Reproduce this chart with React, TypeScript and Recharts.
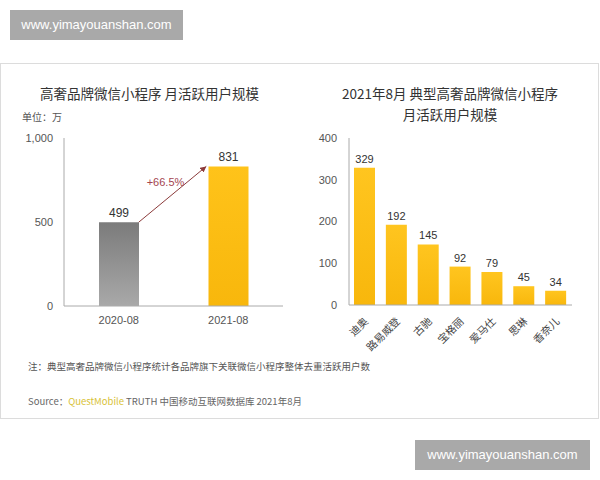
import { BarChart, Bar, XAxis, YAxis, Cell, LabelList, ReferenceLine } from 'recharts'

const periods = ['2020-08', '2021-08']
const totalUsers = [499, 831]
const totalTicks = [0, 500, 1000]

const brands = ['迪奥', '路易威登', '古驰', '宝格丽', '爱马仕', '思琳', '香奈儿']
const brandUsers = [329, 192, 145, 92, 79, 45, 34]
const brandTicks = [0, 100, 200, 300, 400]

const NOTE = '注：典型高奢品牌微信小程序统计各品牌旗下关联微信小程序整体去重活跃用户数'
const CJK = '"Noto Sans CJK SC", "Liberation Sans", sans-serif'
const NUM = '"Liberation Sans", Arial, sans-serif'

const leftData = periods.map((p, i) => ({ period: p, value: totalUsers[i] }))
const rightData = brands.map((b, i) => ({ brand: b, value: brandUsers[i] }))
const growth = ((totalUsers[1] - totalUsers[0]) / totalUsers[0]) * 100

const Arrow = (props: any) => {
  const { x1, y1, x2, y2 } = props
  const sx = x1 + 20
  const ex = x2 - 22
  return (
    <g>
      <line x1={sx} y1={y1} x2={ex} y2={y2} stroke="#8c3b3b" strokeWidth={1} markerEnd="url(#arrowHead)" />
      <text x={(sx + ex) / 2 - 7} y={(y1 + y2) / 2 - 8} fill="#a4454f" fontSize={11} fontFamily={NUM} textAnchor="middle">
        {`+${growth.toFixed(1)}%`}
      </text>
    </g>
  )
}

const BrandTick = ({ x, y, payload }: any) => (
  <text
    x={x + 4}
    y={y + 9}
    transform={`rotate(-45 ${x + 4} ${y + 9})`}
    textAnchor="end"
    fontSize={10.5}
    fill="#444"
    fontFamily={CJK}
  >
    {payload.value}
  </text>
)

export default function App() {
  return (
    <div style={{ position: 'absolute', left: 0, top: 0, width: 600, height: 480, background: '#fff', overflow: 'hidden' }}>
      <div style={{ position: 'absolute', left: 10, top: 10, width: 173, height: 30, background: '#a9a9a9', color: '#fff', fontFamily: NUM, fontSize: 13, lineHeight: '30px', textAlign: 'center' }}>
        www.yimayouanshan.com
      </div>
      <div style={{ position: 'absolute', left: 0, top: 63, width: 597, height: 354, border: '1px solid #dcdcdc' }} />

      <div style={{ position: 'absolute', left: 40, top: 83, fontFamily: CJK, fontSize: 13.5, color: '#333', whiteSpace: 'nowrap' }}>
        高奢品牌微信小程序 月活跃用户规模
      </div>
      <div style={{ position: 'absolute', left: 22, top: 109, fontFamily: CJK, fontSize: 10, color: '#555' }}>单位：万</div>

      <div style={{ position: 'absolute', left: 300, top: 83, width: 300, textAlign: 'center', fontFamily: CJK, fontSize: 13.5, color: '#333', lineHeight: '21px' }}>
        2021年8月 典型高奢品牌微信小程序<br />月活跃用户规模
      </div>

      <div style={{ position: 'absolute', left: 0, top: 128 }}>
        <BarChart width={300} height={208} data={leftData} margin={{ top: 10, right: 17, bottom: 0, left: 0 }}>
          <defs>
            <linearGradient id="grayBar" x1="0" y1="0" x2="0" y2="1">
              <stop offset="0%" stopColor="#7b7b7b" />
              <stop offset="100%" stopColor="#a9a9a9" />
            </linearGradient>
            <linearGradient id="yellowBar" x1="0" y1="0" x2="0" y2="1">
              <stop offset="0%" stopColor="#ffc31a" />
              <stop offset="100%" stopColor="#f8b70c" />
            </linearGradient>
            <marker id="arrowHead" markerWidth="8" markerHeight="8" refX="6" refY="3" orient="auto" markerUnits="userSpaceOnUse">
              <path d="M0,0 L6,3 L0,6 Z" fill="#8c3b3b" />
            </marker>
          </defs>
          <XAxis dataKey="period" height={30} tickLine={false} axisLine={{ stroke: '#aaa' }} tick={{ fontSize: 11, fill: '#555', fontFamily: NUM }} tickMargin={4} />
          <YAxis width={64} domain={[0, 1000]} ticks={totalTicks} tickLine={false} axisLine={{ stroke: '#aaa' }}
            tick={{ fontSize: 11, fill: '#555', fontFamily: NUM }} tickMargin={5} tickFormatter={(v) => v.toLocaleString('en-US')} />
          <Bar dataKey="value" barSize={40} isAnimationActive={false}>
            {leftData.map((d, i) => (
              <Cell key={d.period} fill={i === 0 ? 'url(#grayBar)' : 'url(#yellowBar)'} />
            ))}
            <LabelList dataKey="value" position="top" offset={5} fontSize={12} fill="#333" fontFamily={NUM} />
          </Bar>
          <ReferenceLine
            segment={[{ x: periods[0], y: totalUsers[0] }, { x: periods[1], y: totalUsers[1] }]}
            shape={<Arrow />}
          />
        </BarChart>
      </div>

      <div style={{ position: 'absolute', left: 300, top: 128 }}>
        <BarChart width={282} height={227} data={rightData} margin={{ top: 10, right: 10, bottom: 0, left: 0 }}>
          <defs>
            <linearGradient id="brandBar" x1="0" y1="0" x2="0" y2="1">
              <stop offset="0%" stopColor="#ffc51f" />
              <stop offset="100%" stopColor="#f8b70c" />
            </linearGradient>
          </defs>
          <XAxis dataKey="brand" height={50} interval={0} tickLine={false} axisLine={{ stroke: '#aaa' }} tick={<BrandTick />} />
          <YAxis width={49} domain={[0, 400]} ticks={brandTicks} tickLine={false} axisLine={{ stroke: '#aaa' }}
            tick={{ fontSize: 11, fill: '#555', fontFamily: NUM }} tickMargin={6} />
          <Bar dataKey="value" barSize={21} fill="url(#brandBar)" isAnimationActive={false}>
            <LabelList dataKey="value" position="top" offset={5} fontSize={11} fill="#333" fontFamily={NUM} />
          </Bar>
        </BarChart>
      </div>

      <div style={{ position: 'absolute', left: 28, top: 359, fontFamily: CJK, fontSize: 9.5, color: '#555', whiteSpace: 'nowrap' }}>{NOTE}</div>
      <div style={{ position: 'absolute', left: 28, top: 394, fontFamily: CJK, fontSize: 9.5, color: '#666', whiteSpace: 'nowrap' }}>
        Source：<span style={{ color: '#d8c236' }}>QuestMobile</span> TRUTH 中国移动互联网数据库 2021年8月
      </div>

      <div style={{ position: 'absolute', left: 415, top: 440, width: 175, height: 30, background: '#a9a9a9', color: '#fff', fontFamily: NUM, fontSize: 13, lineHeight: '30px', textAlign: 'center' }}>
        www.yimayouanshan.com
      </div>
    </div>
  )
}
